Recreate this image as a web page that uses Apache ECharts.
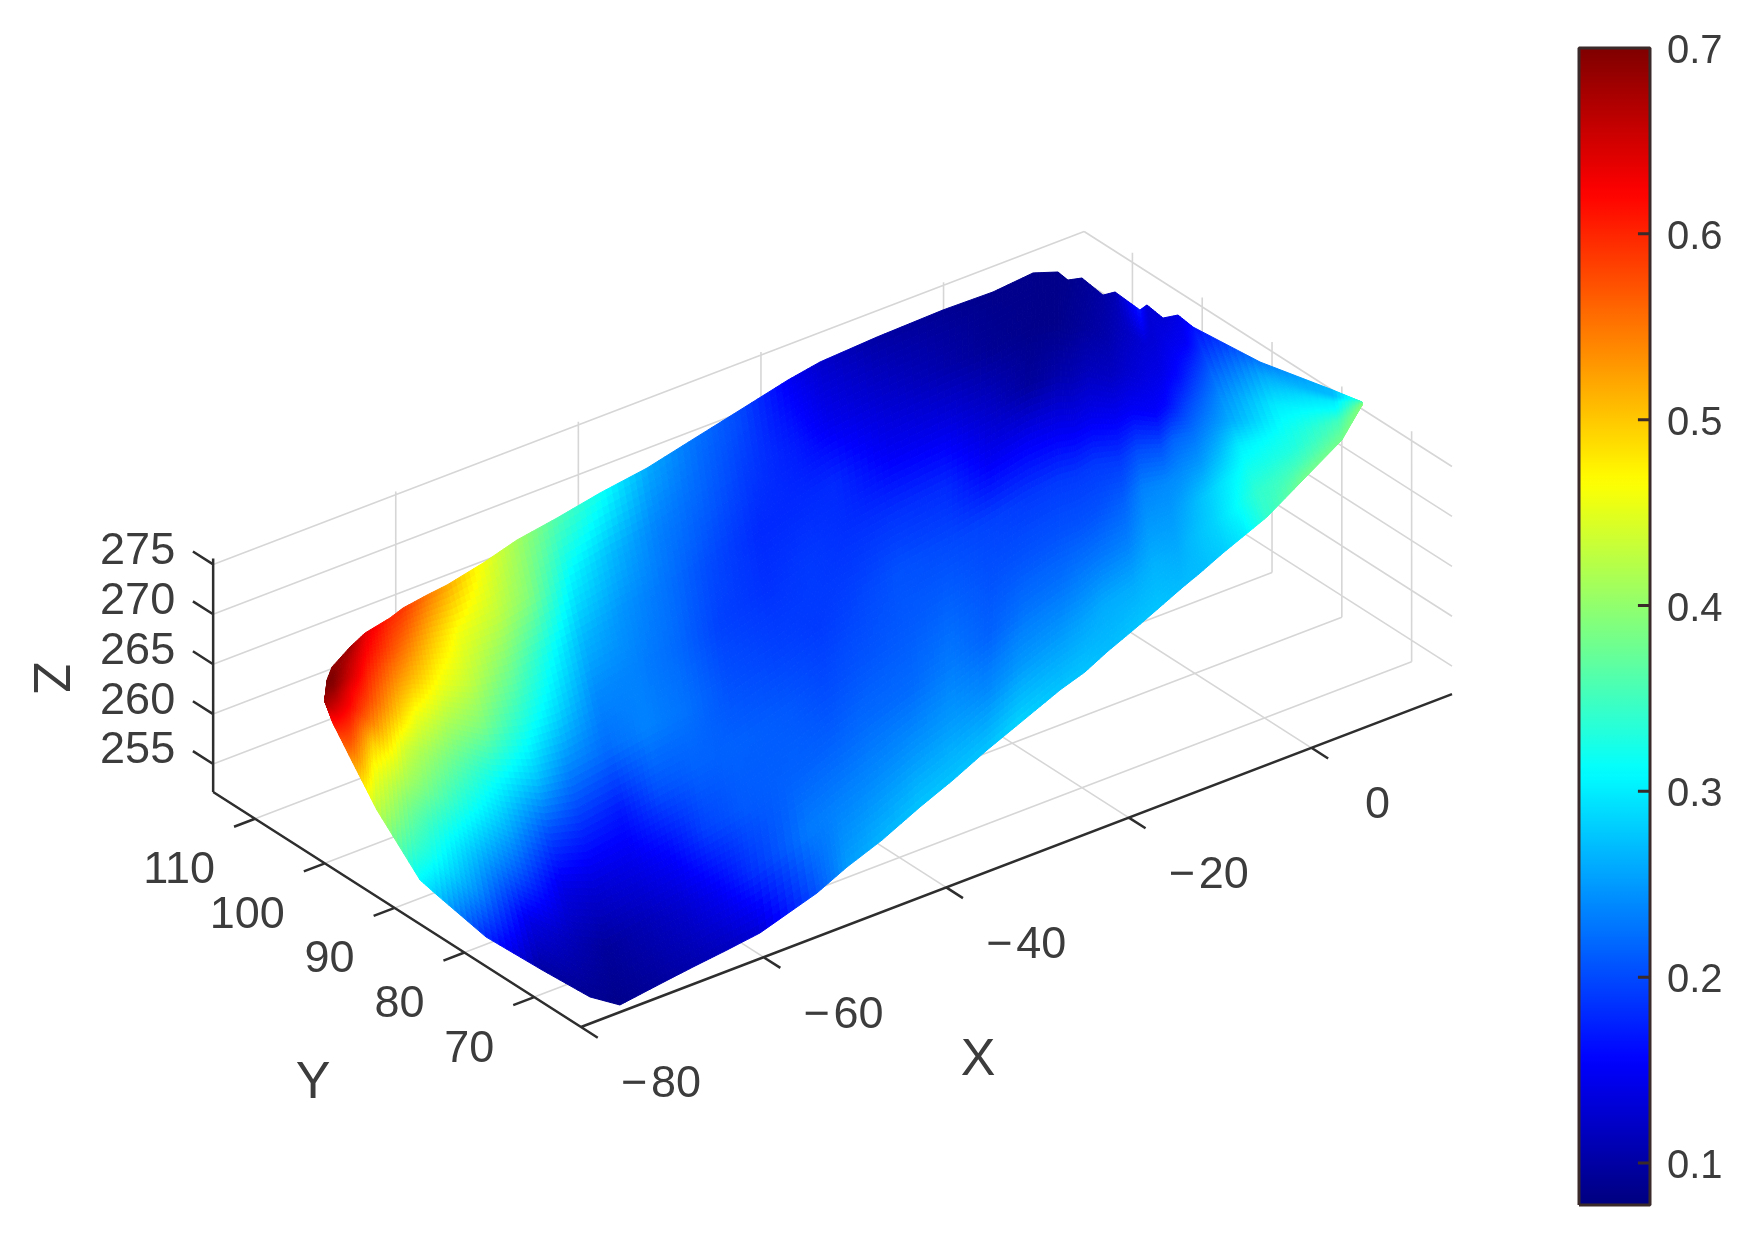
<!DOCTYPE html>
<html>
<head>
<meta charset="utf-8">
<script src="https://cdn.jsdelivr.net/npm/echarts@6/dist/echarts.min.js"></script>
<style>
  html, body { margin: 0; padding: 0; background: #fff; }
  /* the reference is a soft, upscaled image */
  #main { width: 1752px; height: 1245px; filter: blur(0.6px); }
</style>
</head>
<body>
<div id="main"></div>
<script>
// tick values
var xTicks = [-80, -60, -40, -20, 0];
var yTicks = [70, 80, 90, 100, 110];
var zTicks = [255, 260, 265, 270, 275];
var colorTicks = [0.1, 0.2, 0.3, 0.4, 0.5, 0.6, 0.7];

// surface outline (one side, then the other)
var upperX = [-68.28, -68.06, -67.51, -65.54, -63.90, -61.16, -59.74, -57.11, -54.92, -50.97, -47.25, -42.87, -38.16, -33.01, -27.75, -22.83, -17.57, -14.06, -7.82, -0.59, 4.88, 9.27, 9.26, 9.08, 10.26, 9.87, 11.03, 10.80, 11.82, 11.52, 12.87, 12.61, 13.45, 15.44, 16.15];
var upperY = [115.3, 115.3, 115.3, 115.3, 115.3, 115.3, 115.3, 115.3, 115.3, 115.3, 115.3, 115.3, 115.3, 115.3, 115.3, 115.3, 115.3, 115.3, 115.3, 115.3, 115.3, 115.3, 111.72, 110.06, 109.59, 106.07, 105.85, 101.99, 102.32, 99.63, 99.25, 96.76, 88.26, 80.41, 77.17];
var upperZ = [257.83, 259.56, 260.67, 261.98, 262.81, 263.36, 263.86, 264.24, 264.48, 265.30, 266.31, 266.98, 267.84, 268.54, 269.71, 270.79, 271.96, 272.54, 272.86, 273.04, 272.93, 273.30, 275, 275, 275, 275, 275, 275, 275, 275, 275, 275, 275, 275, 275];
var lowerX = [-68.89, -70.61, -72.06, -73.52, -76.92, -78.26, -78.71, -79.85, -78.48, -78.09, -75.83, -71.35, -67.73, -64.01, -60.39, -54.15, -50.87, -47.03, -42.87, -39.26, -35.53, -31.92, -27.54, -24.80, -22.39, -19.10, -16.58, -14.06, -12.20, -9.68, -6.14, -2.70, 3.74, 10.70, 15.83];
var lowerY = [114.5, 111.13, 107.78, 104.44, 96.56, 88.63, 85.62, 77.1, 70.87, 64.51, 63.18, 63.3, 63.3, 63.3, 63.3, 63.3, 63.3, 63.3, 63.3, 63.3, 63.3, 63.3, 63.3, 63.3, 63.3, 63.3, 63.3, 63.3, 63.3, 63.3, 64.79, 66.14, 69.4, 72.92, 76.75];
var lowerZ = [258, 258, 258, 258, 258, 255, 255, 255, 254, 254, 253, 253.48, 253.92, 254.32, 254.77, 256.59, 258.04, 259.4, 261.26, 262.7, 264.4, 265.85, 267.62, 268.47, 269.63, 270.99, 272.11, 273.23, 273.98, 275.11, 275, 275, 275, 275, 275];

// colour value along each cross line, upper edge to lower edge
var surfaceValues = [
  [0.68, 0.68, 0.68, 0.68, 0.68, 0.68, 0.68, 0.68, 0.68],
  [0.70, 0.70, 0.69, 0.68, 0.67, 0.66, 0.64, 0.63, 0.61],
  [0.69, 0.70, 0.69, 0.67, 0.65, 0.63, 0.61, 0.59, 0.57],
  [0.68, 0.66, 0.65, 0.63, 0.62, 0.60, 0.58, 0.56, 0.53],
  [0.64, 0.62, 0.60, 0.58, 0.55, 0.50, 0.47, 0.45, 0.43],
  [0.60, 0.57, 0.53, 0.49, 0.44, 0.41, 0.375, 0.345, 0.31],
  [0.59, 0.55, 0.51, 0.46, 0.42, 0.39, 0.35, 0.32, 0.28],
  [0.55, 0.50, 0.46, 0.415, 0.37, 0.327, 0.28, 0.24, 0.18],
  [0.52, 0.46, 0.43, 0.385, 0.32, 0.268, 0.21, 0.14, 0.10],
  [0.46, 0.43, 0.38, 0.33, 0.275, 0.20, 0.14, 0.11, 0.09],
  [0.41, 0.39, 0.33, 0.29, 0.235, 0.18, 0.13, 0.095, 0.085],
  [0.36, 0.31, 0.27, 0.24, 0.22, 0.17, 0.14, 0.11, 0.095],
  [0.32, 0.27, 0.245, 0.235, 0.235, 0.205, 0.16, 0.125, 0.105],
  [0.26, 0.235, 0.225, 0.22, 0.225, 0.215, 0.195, 0.15, 0.115],
  [0.225, 0.215, 0.20, 0.195, 0.205, 0.215, 0.21, 0.185, 0.13],
  [0.20, 0.19, 0.18, 0.185, 0.195, 0.21, 0.215, 0.23, 0.205],
  [0.15, 0.17, 0.18, 0.19, 0.19, 0.20, 0.215, 0.235, 0.25],
  [0.125, 0.145, 0.18, 0.185, 0.195, 0.205, 0.22, 0.24, 0.265],
  [0.10, 0.125, 0.15, 0.185, 0.205, 0.21, 0.22, 0.245, 0.275],
  [0.09, 0.105, 0.14, 0.18, 0.20, 0.215, 0.23, 0.25, 0.275],
  [0.085, 0.09, 0.12, 0.15, 0.195, 0.205, 0.215, 0.24, 0.275],
  [0.085, 0.085, 0.095, 0.15, 0.19, 0.205, 0.225, 0.25, 0.285],
  [0.085, 0.085, 0.105, 0.145, 0.19, 0.205, 0.225, 0.25, 0.275],
  [0.085, 0.09, 0.11, 0.145, 0.19, 0.205, 0.23, 0.255, 0.275],
  [0.09, 0.095, 0.115, 0.145, 0.19, 0.205, 0.23, 0.26, 0.27],
  [0.10, 0.105, 0.12, 0.15, 0.19, 0.215, 0.235, 0.26, 0.275],
  [0.11, 0.115, 0.125, 0.15, 0.20, 0.235, 0.25, 0.265, 0.275],
  [0.17, 0.13, 0.14, 0.155, 0.205, 0.24, 0.25, 0.26, 0.27],
  [0.13, 0.13, 0.14, 0.16, 0.215, 0.24, 0.26, 0.27, 0.27],
  [0.13, 0.145, 0.16, 0.195, 0.225, 0.25, 0.28, 0.285, 0.28],
  [0.14, 0.15, 0.185, 0.215, 0.24, 0.27, 0.30, 0.31, 0.30],
  [0.16, 0.185, 0.215, 0.24, 0.26, 0.30, 0.32, 0.34, 0.34],
  [0.23, 0.26, 0.28, 0.30, 0.31, 0.32, 0.33, 0.35, 0.38],
  [0.27, 0.27, 0.30, 0.31, 0.33, 0.35, 0.36, 0.37, 0.38],
  [0.34, 0.35, 0.36, 0.37, 0.38, 0.38, 0.39, 0.39, 0.39]
];

var jetColors = ['#00007f', '#0000ff', '#007fff', '#00ffff', '#7fff7f', '#ffff00', '#ff7f00', '#ff0000', '#7f0000'];

var xMin = -80, xMax = 15.4, yMin = 63.3, yMax = 116, zMin = 252.2, zMax = 275.6;
var gridTop = 275.3, wallX = 16.1;
var colorMin = 0.0774, colorMax = 0.7;
var textColor = '#3c3c3c', lineColor = '#2e2e2e', barEdge = '#3a2a2a';

// orthographic view of the 3d box, result is in the page axes below
function project(x, y, z) {
  return [
    581 + 9.13 * (x - xMin) - 6.98 * (y - yMin),
    1027 - 3.49 * (x - xMin) - 4.46 * (y - yMin) - 9.98 * (z - zMin)
  ];
}

// line series data, a null breaks the line
function segments(list) {
  var out = [];
  list.forEach(function (s) {
    out.push(project(s[0], s[1], s[2]));
    out.push(project(s[3], s[4], s[5]));
    out.push([null, null]);
  });
  return out;
}

var gridSegs = [];
xTicks.forEach(function (x) {
  gridSegs.push([x, yMin, zMin, x, yMax, zMin]);
  gridSegs.push([x, yMax, zMin, x, yMax, gridTop]);
});
yTicks.forEach(function (y) {
  gridSegs.push([xMin, y, zMin, wallX, y, zMin]);
  gridSegs.push([wallX, y, zMin, wallX, y, gridTop]);
});
zTicks.forEach(function (z) {
  gridSegs.push([xMin, yMax, z, xMax, yMax, z]);
  gridSegs.push([xMax, yMax, z, xMax, yMin, z]);
});

var axisSegs = [
  [xMin, yMax, zMin, xMin, yMax, zMax],
  [xMin, yMin, zMin, xMin, yMax, zMin],
  [xMin, yMin, zMin, xMax, yMin, zMin]
];
xTicks.forEach(function (x) { axisSegs.push([x, yMin, zMin, x, yMin - 2.4, zMin]); });
yTicks.forEach(function (y) { axisSegs.push([xMin, y, zMin, xMin - 2.3, y, zMin]); });
zTicks.forEach(function (z) { axisSegs.push([xMin, yMax, z, xMin, yMax + 2.9, z]); });

// all text of the 3d part
var labels = [];
function addLabel(pos, dx, dy, text, size, align, rotate) {
  labels.push({ x: pos[0] + dx, y: pos[1] + dy, text: text, size: size, align: align, rotate: rotate || 0 });
}
xTicks.forEach(function (x) {
  var name = x < 0 ? '\u2212\u200a' + (-x) : String(x);
  addLabel(project(x, yMin, zMin), x < 0 ? 80 : 66, 58, name, 45, 'center');
});
yTicks.forEach(function (y) {
  addLabel(project(xMin, y, zMin), -40, 52, String(y), 45, 'right');
});
zTicks.forEach(function (z) {
  addLabel(project(xMin, yMax, z), -38, -13, String(z), 45, 'right');
});
addLabel([978, 1061], 0, 0, 'X', 52, 'center');
addLabel([313, 1084], 0, 0, 'Y', 52, 'center');
addLabel([48, 678], 0, 0, 'Z', 52, 'center', -Math.PI / 2);

// cells of the surface, value of the first corner is kept for the visualMap
var cells = [];
for (var k = 0; k < surfaceValues.length - 1; k++) {
  for (var j = 0; j < surfaceValues[k].length - 1; j++) {
    cells.push([k, j, surfaceValues[k][j]]);
  }
}

function nodeAt(k, t) {
  return project(
    upperX[k] + (lowerX[k] - upperX[k]) * t,
    upperY[k] + (lowerY[k] - upperY[k]) * t,
    upperZ[k] + (lowerZ[k] - upperZ[k]) * t
  );
}

function valueColor(v) {
  var t = (v - colorMin) / (colorMax - colorMin);
  return echarts.color.lerp(Math.max(0, Math.min(1, t)), jetColors);
}

// interp shading: every cell is split up and coloured from its four corners
var SHADE_ALONG = 8, SHADE_ACROSS = 8;
var ACROSS = surfaceValues[0].length - 1;
function renderCell(params, api) {
  var k = api.value(0), j = api.value(1);
  var children = [];
  function corner(a, b) {
    var t = (j + b / SHADE_ACROSS) / ACROSS;
    var p0 = nodeAt(k, t), p1 = nodeAt(k + 1, t);
    var f = a / SHADE_ALONG;
    return api.coord([p0[0] + (p1[0] - p0[0]) * f, p0[1] + (p1[1] - p0[1]) * f]);
  }
  for (var a = 0; a < SHADE_ALONG; a++) {
    for (var b = 0; b < SHADE_ACROSS; b++) {
      var u = (a + 0.5) / SHADE_ALONG, w = (b + 0.5) / SHADE_ACROSS;
      var top = surfaceValues[k][j] * (1 - u) + surfaceValues[k + 1][j] * u;
      var bot = surfaceValues[k][j + 1] * (1 - u) + surfaceValues[k + 1][j + 1] * u;
      var c = valueColor(top * (1 - w) + bot * w);
      children.push({
        type: 'polygon',
        shape: { points: [corner(a, b), corner(a + 1, b), corner(a + 1, b + 1), corner(a, b + 1)] },
        style: { fill: c, stroke: c, lineWidth: 1 }
      });
    }
  }
  return { type: 'group', children: children };
}

function renderLabel(params, api) {
  var l = labels[params.dataIndex];
  var p = api.coord([l.x, l.y]);
  return {
    type: 'text',
    x: p[0],
    y: p[1],
    rotation: l.rotate,
    style: {
      text: l.text,
      fill: textColor,
      font: l.size + 'px "Liberation Sans"',
      align: l.align,
      verticalAlign: 'middle'
    }
  };
}

// colorbar numbers sit beside the bar, a bit below the tick like in the reference
function renderBarLabel(params, api) {
  var p = api.coord([1, api.value(1)]);
  return {
    type: 'text',
    x: p[0] + 17,
    y: p[1] + 4,
    style: {
      text: api.value(1).toFixed(1),
      fill: textColor,
      font: '40px "Liberation Sans"',
      align: 'left',
      verticalAlign: 'middle'
    }
  };
}

// colorbar frame and its inside ticks, in the axes of the second grid
var barLines = [[0, colorMin], [1, colorMin], [1, colorMax], [0, colorMax], [0, colorMin], [null, null]];
colorTicks.forEach(function (v) {
  barLines.push([0.83, v]);
  barLines.push([1, v]);
  barLines.push([null, null]);
});

var myChart = echarts.init(document.getElementById('main'), null, { renderer: 'canvas' });
myChart.setOption({
  animation: false,
  backgroundColor: '#fff',
  grid: [
    { left: 0, top: 0, right: 0, bottom: 0 },
    { left: 1579, top: 48, width: 71, height: 1157 }
  ],
  xAxis: [
    { type: 'value', min: 0, max: 1752, show: false, gridIndex: 0 },
    { type: 'value', min: 0, max: 1, show: false, gridIndex: 1 }
  ],
  yAxis: [
    { type: 'value', min: 0, max: 1245, inverse: true, show: false, gridIndex: 0 },
    { type: 'value', min: colorMin, max: colorMax, show: false, gridIndex: 1 }
  ],
  visualMap: {
    type: 'continuous',
    seriesIndex: 1,
    dimension: 2,
    min: colorMin,
    max: colorMax,
    calculable: false,
    left: 1579,
    top: 48,
    padding: 0,
    itemWidth: 71,
    itemHeight: 1157,
    text: null,
    inRange: { color: jetColors }
  },
  series: [
    {
      type: 'line', name: 'grid', data: segments(gridSegs), symbol: 'none', silent: true, connectNulls: false,
      lineStyle: { color: '#d6d6d6', width: 1.6 }, z: 1
    },
    {
      type: 'custom', name: 'surface', data: cells, renderItem: renderCell, silent: true, z: 2,
      encode: { x: -1, y: -1 }
    },
    {
      type: 'line', name: 'axes', data: segments(axisSegs), symbol: 'none', silent: true, connectNulls: false,
      lineStyle: { color: lineColor, width: 2.5 }, z: 3
    },
    {
      type: 'custom', name: 'labels', data: labels.map(function (l) { return [l.x, l.y]; }), renderItem: renderLabel, silent: true, z: 4
    },
    {
      type: 'line', name: 'colorbar', xAxisIndex: 1, yAxisIndex: 1, data: barLines, symbol: 'none', silent: true,
      connectNulls: false, clip: false, lineStyle: { color: barEdge, width: 3 }, z: 20
    },
    {
      type: 'custom', name: 'colorbar labels', xAxisIndex: 1, yAxisIndex: 1, clip: false, silent: true, z: 20,
      data: colorTicks.map(function (v) { return [1, v]; }), renderItem: renderBarLabel
    }
  ]
});
</script>
</body>
</html>
